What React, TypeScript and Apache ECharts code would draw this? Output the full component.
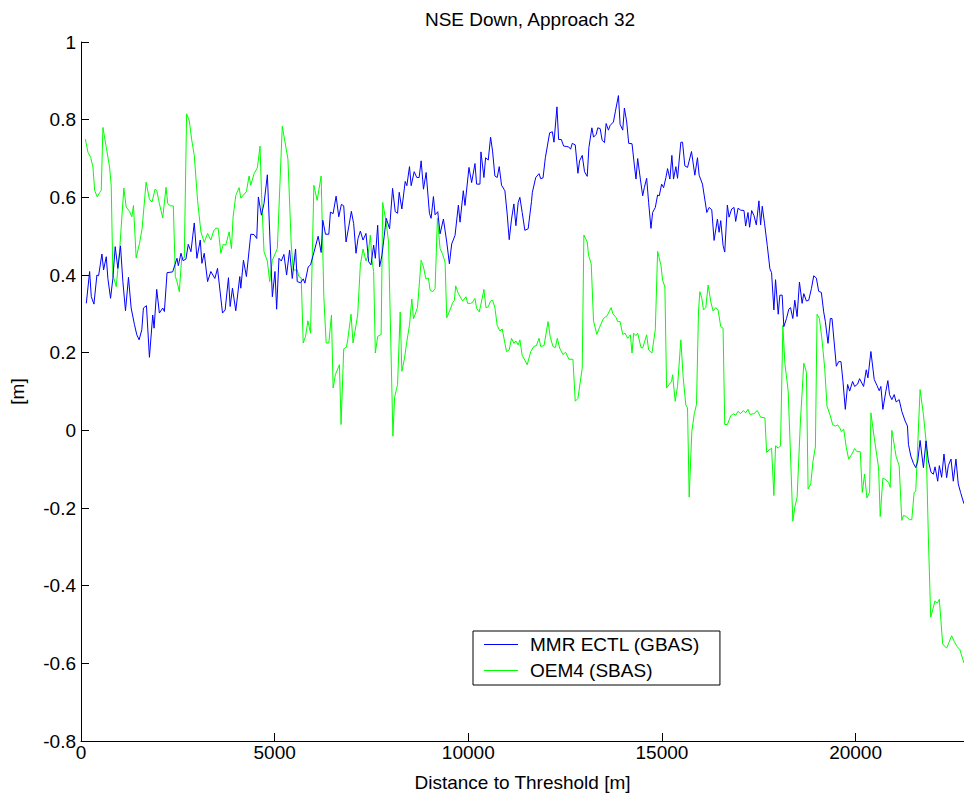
import React, { useEffect, useRef } from "react";
import * as echarts from "echarts";

const titleText = "NSE Down, Approach 32";
const xName = "Distance to Threshold [m]";
const yName = "[m]";
const seriesNames = ["MMR ECTL (GBAS)", "OEM4 (SBAS)"];

const gbasDist = [
  137, 223, 266, 334, 411, 454, 540, 583, 652, 694, 763, 823, 883, 952, 1020, 1081, 1149, 1226, 1295, 1381,
  1441, 1501, 1570, 1612, 1690, 1767, 1852, 1887, 1955, 2024, 2110, 2153, 2222, 2367, 2427, 2479, 2513, 2582, 2633, 2710,
  2770, 2839, 2925, 2993, 3079, 3122, 3182, 3268, 3353, 3456, 3525, 3654, 3722, 3808, 3851, 3911, 3997, 4100, 4126, 4195,
  4271, 4383, 4469, 4538, 4580, 4658, 4726, 4812, 4872, 4941, 5009, 5052, 5112, 5172, 5240, 5309, 5386, 5455, 5541, 5583,
  5669, 5738, 5781, 5867, 5927, 5995, 6124, 6201, 6244, 6313, 6399, 6441, 6510, 6587, 6656, 6724, 6784, 6844, 6913, 6981,
  7041, 7101, 7153, 7213, 7282, 7359, 7428, 7488, 7557, 7600, 7660, 7711, 7771, 7796, 7882, 7968, 8045, 8114, 8174, 8216,
  8285, 8371, 8414, 8482, 8525, 8603, 8671, 8731, 8783, 8843, 8912, 8997, 9040, 9100, 9143, 9212, 9272, 9358, 9444, 9512,
  9572, 9658, 9744, 9787, 9872, 9915, 10018, 10087, 10173, 10215, 10301, 10327, 10404, 10447, 10516, 10576, 10627, 10687, 10747, 10799,
  10859, 10945, 11005, 11057, 11117, 11177, 11229, 11289, 11332, 11392, 11461, 11546, 11632, 11655, 11741, 11827, 11870, 11930, 11990, 12101,
  12170, 12213, 12290, 12333, 12402, 12462, 12530, 12591, 12642, 12685, 12762, 12831, 12874, 12942, 13002, 13071, 13114, 13191, 13234, 13302,
  13345, 13405, 13457, 13517, 13559, 13619, 13662, 13748, 13800, 13877, 13920, 13988, 14031, 14091, 14142, 14228, 14288, 14331, 14374, 14443,
  14503, 14546, 14606, 14657, 14717, 14760, 14829, 14889, 14932, 14992, 15043, 15103, 15146, 15206, 15257, 15300, 15360, 15403, 15489, 15532,
  15592, 15661, 15764, 15850, 15918, 15961, 16047, 16159, 16219, 16287, 16347, 16433, 16476, 16519, 16579, 16622, 16690, 16733, 16802, 16862,
  16905, 16965, 17033, 17119, 17162, 17222, 17265, 17317, 17377, 17437, 17505, 17548, 17591, 17651, 17720, 17788, 17831, 17891, 17934, 18003,
  18045, 18105, 18148, 18217, 18277, 18320, 18380, 18431, 18491, 18551, 18620, 18663, 18731, 18791, 18860, 18920, 18988, 19048, 19117, 19177,
  19220, 19289, 19349, 19392, 19504, 19564, 19624, 19675, 19735, 19795, 19847, 19924, 19976, 20053, 20104, 20207, 20276, 20319, 20396, 20482,
  20551, 20611, 20654, 20705, 20783, 20834, 20877, 20937, 20997, 21048, 21126, 21194, 21280, 21340, 21366, 21426, 21494, 21554, 21606, 21666,
  21709, 21752, 21820, 21880, 21949, 22009, 22052, 22121, 22163, 22223, 22283, 22352, 22395, 22464, 22524, 22592, 22652, 22712, 22798,
];
const gbasNse = [
  0.327, 0.409, 0.344, 0.325, 0.4, 0.398, 0.454, 0.413, 0.447, 0.391, 0.34, 0.391, 0.473, 0.417, 0.475, 0.383, 0.308, 0.394, 0.315, 0.272,
  0.246, 0.233, 0.259, 0.315, 0.321, 0.188, 0.297, 0.263, 0.363, 0.302, 0.315, 0.306, 0.406, 0.408, 0.427, 0.443, 0.424, 0.456, 0.437, 0.441,
  0.479, 0.46, 0.534, 0.443, 0.49, 0.43, 0.456, 0.383, 0.409, 0.391, 0.417, 0.302, 0.31, 0.393, 0.319, 0.366, 0.308, 0.396, 0.366, 0.438,
  0.396, 0.505, 0.504, 0.494, 0.601, 0.554, 0.584, 0.658, 0.511, 0.344, 0.409, 0.312, 0.443, 0.436, 0.453, 0.4, 0.464, 0.391, 0.467, 0.383,
  0.38, 0.39, 0.379, 0.421, 0.426, 0.451, 0.5, 0.458, 0.541, 0.505, 0.505, 0.562, 0.558, 0.603, 0.55, 0.582, 0.578, 0.485, 0.524, 0.564,
  0.532, 0.456, 0.494, 0.513, 0.49, 0.507, 0.434, 0.426, 0.477, 0.443, 0.528, 0.421, 0.451, 0.472, 0.546, 0.519, 0.623, 0.563, 0.559, 0.613,
  0.57, 0.641, 0.63, 0.679, 0.63, 0.666, 0.651, 0.651, 0.694, 0.621, 0.664, 0.559, 0.546, 0.602, 0.555, 0.563, 0.506, 0.544, 0.485, 0.429,
  0.48, 0.502, 0.58, 0.536, 0.617, 0.579, 0.677, 0.638, 0.687, 0.634, 0.634, 0.717, 0.651, 0.702, 0.696, 0.755, 0.719, 0.655, 0.651, 0.679,
  0.631, 0.617, 0.557, 0.491, 0.544, 0.583, 0.527, 0.587, 0.6, 0.561, 0.515, 0.519, 0.589, 0.613, 0.651, 0.661, 0.648, 0.65, 0.702, 0.766,
  0.769, 0.742, 0.833, 0.749, 0.749, 0.732, 0.731, 0.73, 0.724, 0.739, 0.735, 0.662, 0.694, 0.708, 0.666, 0.654, 0.728, 0.779, 0.755, 0.762,
  0.779, 0.777, 0.747, 0.741, 0.79, 0.773, 0.785, 0.794, 0.822, 0.862, 0.788, 0.773, 0.83, 0.794, 0.739, 0.738, 0.683, 0.647, 0.7, 0.647,
  0.604, 0.625, 0.649, 0.587, 0.52, 0.561, 0.574, 0.606, 0.604, 0.634, 0.625, 0.651, 0.674, 0.647, 0.708, 0.647, 0.679, 0.649, 0.742, 0.742,
  0.681, 0.677, 0.718, 0.657, 0.702, 0.657, 0.634, 0.561, 0.574, 0.568, 0.489, 0.544, 0.51, 0.54, 0.476, 0.459, 0.58, 0.549, 0.57, 0.574,
  0.538, 0.572, 0.567, 0.566, 0.526, 0.561, 0.523, 0.566, 0.553, 0.529, 0.591, 0.529, 0.577, 0.532, 0.476, 0.416, 0.406, 0.31, 0.388, 0.299,
  0.348, 0.348, 0.267, 0.288, 0.312, 0.316, 0.288, 0.335, 0.293, 0.382, 0.327, 0.352, 0.333, 0.335, 0.365, 0.398, 0.392, 0.358, 0.355, 0.305,
  0.28, 0.224, 0.288, 0.288, 0.165, 0.177, 0.177, 0.126, 0.054, 0.118, 0.101, 0.126, 0.113, 0.119, 0.133, 0.113, 0.156, 0.135, 0.203, 0.131,
  0.116, 0.102, 0.113, 0.054, 0.101, 0.128, 0.092, 0.079, 0.092, 0.073, 0.079, 0.049, 0.024, 0.011, -0.036, -0.066, -0.085, -0.096, -0.079, -0.026,
  -0.061, -0.096, -0.027, -0.079, -0.108, -0.113, -0.094, -0.131, -0.091, -0.121, -0.061, -0.122, -0.091, -0.074, -0.131, -0.074, -0.138, -0.16, -0.189,
];

const sbasDist = [
  112, 180, 249, 309, 352, 420, 480, 523, 566, 652, 738, 780, 823, 909, 995, 1106, 1166, 1252, 1312, 1355,
  1424, 1510, 1578, 1681, 1767, 1835, 1913, 1955, 2024, 2110, 2196, 2239, 2307, 2384, 2436, 2479, 2539, 2599, 2667, 2727,
  2796, 2856, 2925, 3010, 3096, 3182, 3268, 3353, 3422, 3482, 3542, 3611, 3671, 3739, 3825, 3885, 3928, 3997, 4083, 4126,
  4271, 4340, 4383, 4469, 4554, 4623, 4666, 4726, 4812, 4872, 4941, 5069, 5197, 5343, 5429, 5480, 5583, 5626, 5686, 5738,
  5798, 5858, 5927, 6013, 6098, 6201, 6270, 6330, 6399, 6467, 6510, 6570, 6673, 6715, 6784, 6853, 6887, 6973, 7024, 7144,
  7213, 7282, 7359, 7411, 7471, 7514, 7557, 7600, 7660, 7750, 7790, 7873, 7942, 8054, 8097, 8174, 8242, 8285, 8354, 8414,
  8482, 8542, 8585, 8688, 8783, 8843, 8903, 8971, 9014, 9083, 9143, 9203, 9272, 9332, 9401, 9444, 9529, 9598, 9641, 9675,
  9744, 9855, 9941, 9984, 10061, 10104, 10173, 10215, 10284, 10344, 10404, 10456, 10516, 10576, 10627, 10687, 10747, 10816, 10876, 10987,
  11057, 11117, 11177, 11229, 11289, 11332, 11392, 11443, 11521, 11615, 11690, 11758, 11827, 11870, 11956, 12059, 12119, 12187, 12248, 12299,
  12359, 12445, 12513, 12599, 12702, 12762, 12831, 12942, 12985, 13071, 13105, 13174, 13234, 13320, 13388, 13491, 13585, 13688, 13731, 13817,
  13859, 13920, 13988, 14048, 14117, 14185, 14228, 14271, 14331, 14374, 14460, 14503, 14606, 14657, 14743, 14829, 14889, 14975, 15017, 15077,
  15120, 15189, 15249, 15275, 15343, 15403, 15489, 15550, 15618, 15661, 15704, 15773, 15833, 15893, 15944, 15979, 16030, 16073, 16133, 16193,
  16262, 16322, 16390, 16450, 16519, 16579, 16622, 16690, 16776, 16836, 16905, 16965, 17033, 17102, 17162, 17222, 17274, 17377, 17462, 17548,
  17660, 17703, 17763, 17831, 17891, 17934, 18003, 18063, 18123, 18174, 18260, 18320, 18380, 18431, 18491, 18577, 18663, 18731, 18774, 18843,
  18903, 18963, 19006, 19066, 19134, 19203, 19263, 19349, 19410, 19478, 19538, 19589, 19632, 19693, 19761, 19821, 19907, 19976, 20036, 20122,
  20173, 20233, 20293, 20362, 20396, 20482, 20594, 20637, 20705, 20791, 20851, 20894, 20937, 21048, 21126, 21194, 21237, 21306, 21392, 21452,
  21512, 21554, 21666, 21752, 21820, 21880, 21940, 21992, 22052, 22112, 22163, 22249, 22352, 22481, 22550, 22610, 22695, 22798,
];
const sbasNse = [
  0.75, 0.716, 0.703, 0.678, 0.618, 0.601, 0.612, 0.618, 0.78, 0.729, 0.678, 0.631, 0.4, 0.37, 0.46, 0.624, 0.575, 0.564, 0.55, 0.579,
  0.444, 0.481, 0.52, 0.639, 0.595, 0.588, 0.621, 0.618, 0.584, 0.547, 0.626, 0.584, 0.578, 0.578, 0.396, 0.383, 0.357, 0.443, 0.444, 0.815,
  0.797, 0.75, 0.708, 0.592, 0.511, 0.484, 0.507, 0.49, 0.513, 0.521, 0.52, 0.456, 0.479, 0.477, 0.511, 0.468, 0.55, 0.605, 0.625, 0.598,
  0.615, 0.655, 0.631, 0.661, 0.676, 0.732, 0.597, 0.46, 0.436, 0.383, 0.438, 0.468, 0.783, 0.699, 0.477, 0.413, 0.413, 0.396, 0.393, 0.225,
  0.242, 0.282, 0.25, 0.631, 0.592, 0.655, 0.344, 0.225, 0.225, 0.297, 0.109, 0.144, 0.169, 0.015, 0.21, 0.214, 0.233, 0.299, 0.225, 0.297,
  0.426, 0.467, 0.436, 0.451, 0.503, 0.438, 0.409, 0.199, 0.242, 0.247, 0.587, 0.54, 0.485, -0.015, 0.085, 0.118, 0.305, 0.152, 0.186, 0.229,
  0.271, 0.338, 0.287, 0.316, 0.438, 0.421, 0.391, 0.392, 0.361, 0.357, 0.365, 0.546, 0.468, 0.455, 0.433, 0.29, 0.31, 0.329, 0.335, 0.372,
  0.352, 0.333, 0.344, 0.327, 0.327, 0.329, 0.34, 0.314, 0.305, 0.333, 0.363, 0.316, 0.318, 0.333, 0.335, 0.316, 0.27, 0.256, 0.261, 0.203,
  0.207, 0.237, 0.224, 0.23, 0.22, 0.233, 0.193, 0.184, 0.169, 0.203, 0.216, 0.218, 0.237, 0.216, 0.218, 0.28, 0.239, 0.216, 0.213, 0.237,
  0.212, 0.195, 0.201, 0.183, 0.183, 0.075, 0.082, 0.16, 0.503, 0.485, 0.451, 0.429, 0.282, 0.247, 0.265, 0.288, 0.295, 0.316, 0.301, 0.29,
  0.28, 0.28, 0.247, 0.25, 0.237, 0.246, 0.199, 0.25, 0.244, 0.25, 0.213, 0.212, 0.246, 0.207, 0.199, 0.259, 0.461, 0.425, 0.387, 0.369,
  0.109, 0.118, 0.126, 0.143, 0.075, 0.113, 0.233, 0.135, 0.065, 0.058, -0.172, -0.002, 0.041, 0.067, 0.305, 0.357, 0.34, 0.31, 0.316, 0.374,
  0.331, 0.307, 0.316, 0.31, 0.267, 0.263, 0.015, 0.015, 0.037, 0.043, 0.039, 0.049, 0.043, 0.051, 0.045, 0.054, 0.041, 0.043, 0.051, 0.034,
  0.032, -0.057, -0.051, -0.046, -0.168, -0.04, -0.046, -0.04, 0.27, 0.173, 0.101, -0.061, -0.234, -0.198, -0.172, 0.024, 0.173, 0.15, -0.151, -0.138,
  -0.078, -0.043, 0.299, 0.288, 0.233, 0.16, 0.062, 0.037, 0.014, 0.011, 0.014, 0.007, -0.003, 0.003, -0.044, -0.074, -0.061, -0.047, -0.055, -0.055,
  -0.16, -0.113, -0.174, -0.16, 0.045, -0.019, -0.096, -0.222, -0.123, -0.128, -0.134, -0.147, 0.0, -0.068, -0.091, -0.232, -0.219, -0.222, -0.23, -0.23,
  -0.16, -0.157, 0.105, 0.041, -0.027, -0.275, -0.481, -0.462, -0.439, -0.445, -0.435, -0.55, -0.561, -0.529, -0.544, -0.555, -0.565, -0.599,
];

const xMin = 0;
const xMax = 22800;
const xStep = 5000;
const yMin = -0.8;
const yMax = 1;
const yStep = 0.2;

const FONT = "'Liberation Sans', Arial, Helvetica, sans-serif";

function zip(xs: number[], ys: number[]) {
  const n = Math.min(xs.length, ys.length);
  const out: number[][] = [];
  for (let i = 0; i < n; i++) out.push([xs[i], ys[i]]);
  return out;
}

export default function App() {
  const ref = useRef<HTMLDivElement>(null);
  useEffect(() => {
    if (!ref.current) return;
    const chart = echarts.init(ref.current, undefined, { renderer: "svg" });
    const axisColor = "#000";
    chart.setOption({
      animation: false,
      backgroundColor: "#fff",
      textStyle: { fontFamily: FONT },
      title: {
        text: titleText,
        left: 525,
        top: 5,
        textAlign: "center",
        textStyle: { fontFamily: FONT, fontSize: 19, fontWeight: "normal", color: "#000" },
      },
      grid: { left: 78, right: 0, top: 42, bottom: 51, containLabel: false },
      legend: {
        orient: "vertical",
        left: 473,
        top: 631,
        icon: "rect",
        itemWidth: 34,
        itemHeight: 1,
        itemGap: 7,
        padding: [4, 20, 5, 11],
        borderColor: "#000",
        borderWidth: 1,
        backgroundColor: "#fff",
        textStyle: { fontFamily: FONT, fontSize: 19, color: "#000", padding: [0, 0, 0, 7] },
        data: seriesNames,
      },
      xAxis: {
        type: "value",
        min: xMin,
        max: xMax,
        interval: xStep,
        name: xName,
        nameLocation: "middle",
        nameGap: 32,
        nameTextStyle: { fontFamily: FONT, fontSize: 19, color: "#000" },
        axisLine: { show: true, onZero: false, lineStyle: { color: axisColor, width: 1 } },
        axisTick: { show: true, inside: true, length: 8, lineStyle: { color: axisColor } },
        axisLabel: {
          margin: 2,
          fontFamily: FONT,
          fontSize: 19,
          color: "#000",
          showMaxLabel: false,
          formatter: (v: number) => (v % xStep === 0 ? String(v) : ""),
        },
        splitLine: { show: false },
      },
      yAxis: {
        type: "value",
        min: yMin,
        max: yMax,
        interval: yStep,
        name: yName,
        nameLocation: "middle",
        nameGap: 54,
        nameRotate: 90,
        nameTextStyle: { fontFamily: FONT, fontSize: 19, color: "#000" },
        axisLine: { show: true, onZero: false, lineStyle: { color: axisColor, width: 1 } },
        axisTick: { show: true, inside: true, length: 8, lineStyle: { color: axisColor } },
        axisLabel: {
          margin: 5,
          fontFamily: FONT,
          fontSize: 19,
          color: "#000",
          formatter: (v: number) => String(Math.round(v * 10) / 10),
        },
        splitLine: { show: false },
      },
      series: [
        {
          name: seriesNames[0],
          type: "line",
          data: zip(gbasDist, gbasNse),
          symbol: "none",
          lineStyle: { color: "#0000ff", width: 1 },
          itemStyle: { color: "#0000ff" },
          z: 3,
        },
        {
          name: seriesNames[1],
          type: "line",
          data: zip(sbasDist, sbasNse),
          symbol: "none",
          lineStyle: { color: "#00ff00", width: 1 },
          itemStyle: { color: "#00ff00" },
          z: 2,
        },
      ],
    });
    return () => chart.dispose();
  }, []);
  return (
    <div
      ref={ref}
      style={{ position: "fixed", left: 0, top: 0, width: 964, height: 797, background: "#fff" }}
    />
  );
}
